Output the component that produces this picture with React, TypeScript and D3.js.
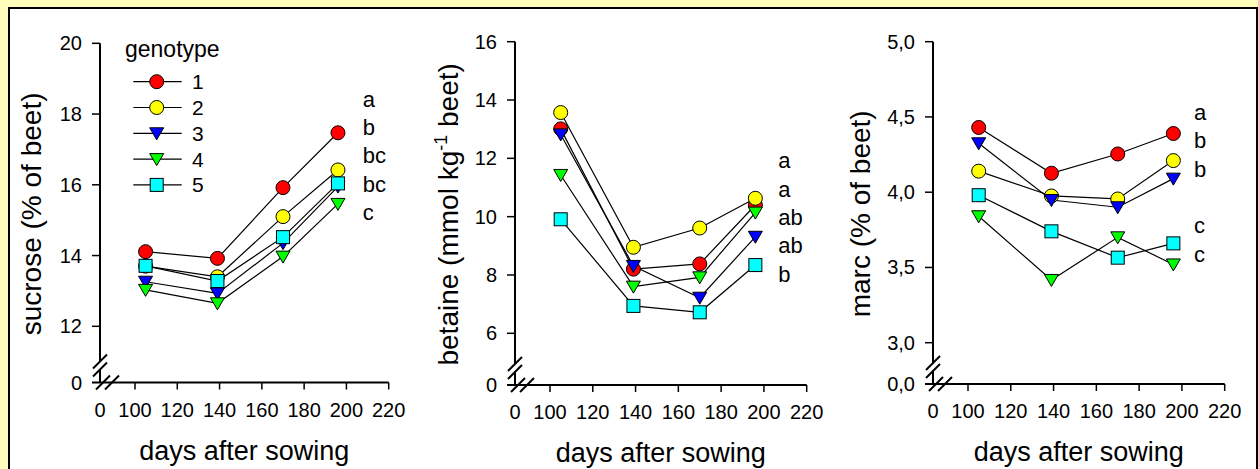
import React from 'react';
import * as d3 from 'd3';

// sampling days (x) and the five genotypes
const days = [105, 139, 170, 196];
const genotypes = ['1', '2', '3', '4', '5'];
const xTicks = [100, 120, 140, 160, 180, 200, 220];

// values per genotype, one row per genotype, one column per day
const sucrose = [
  [14.11, 13.92, 15.92, 17.47],
  [13.7, 13.4, 15.1, 16.42],
  [13.26, 12.93, 14.35, 15.95],
  [13.03, 12.65, 13.97, 15.46],
  [13.71, 13.28, 14.52, 16.04],
];
const betaine = [
  [13.01, 8.2, 8.38, 10.4],
  [13.57, 8.95, 9.61, 10.63],
  [12.82, 8.31, 7.22, 9.31],
  [11.43, 7.6, 7.92, 10.14],
  [9.91, 6.94, 6.72, 8.34],
];
const marc = [
  [4.43, 4.126, 4.254, 4.39],
  [4.14, 3.975, 3.955, 4.21],
  [4.325, 3.948, 3.9, 4.09],
  [3.84, 3.417, 3.7, 3.52],
  [3.98, 3.74, 3.565, 3.66],
];

const sucroseTicks = [12, 14, 16, 18, 20];
const betaineTicks = [6, 8, 10, 12, 14, 16];
const marcTicks = [3.0, 3.5, 4.0, 4.5, 5.0];

// significance letters (empty slot = skipped line)
const sucroseLetters = ['a', 'b', 'bc', 'bc', 'c'];
const betaineLetters = ['a', 'a', 'ab', 'ab', 'b'];
const marcLetters = ['a', 'b', 'b', '', 'c', 'c'];

const fills = ['#ff0000', '#ffff00', '#0000ff', '#00ff00', '#00ffff'];
const shapes = ['circle', 'circle', 'tri', 'tri', 'square'];

const FONT = 'Liberation Sans, Arial, sans-serif';

const commaFmt = (d: number) => d3.format('.1f')(d).replace('.', ',');

function Marker({ shape, x, y, fill }: { shape: string; x: number; y: number; fill: string }) {
  if (shape === 'circle') return <circle cx={x} cy={y} r={7} fill={fill} stroke="#000" strokeWidth={1} />;
  if (shape === 'square') return <rect x={x - 6.5} y={y - 6.5} width={13} height={13} fill={fill} stroke="#000" strokeWidth={1} />;
  const p = `M${x - 7},${y - 5.5}L${x + 7},${y - 5.5}L${x},${y + 6.5}Z`;
  return <path d={p} fill={fill} stroke="#000" strokeWidth={1} />;
}

type PanelProps = {
  values: number[][];
  ticks: number[];
  tickFmt: (d: number) => string;
  zeroLabel: string;
  letters: string[];
  title: React.ReactNode;
  x0: number; x100: number; x220: number;
  yBot: number; yTop: number; y0: number;
  titleX: number;
  letterX: number; letterY: number;
  legend?: boolean;
};

function Panel(p: PanelProps) {
  const x = d3.scaleLinear().domain([100, 220]).range([p.x100, p.x220]);
  const lo = p.ticks[0], hi = p.ticks[p.ticks.length - 1];
  const y = d3.scaleLinear().domain([lo, hi]).range([p.yBot, p.yTop]);
  const line = d3.line<number>().x((_, i) => x(days[i])).y(d => y(d));
  const b1 = p.y0 - 21, b2 = p.y0 - 13;
  const slash = (cx: number, cy: number, k: number) => (
    <line key={k} x1={cx - 7} y1={cy + 7} x2={cx + 7} y2={cy - 7} stroke="#000" strokeWidth={2} />
  );
  return (
    <g fontFamily={FONT} fill="#000">
      {/* axes */}
      <line x1={p.x0} x2={p.x0} y1={p.yTop} y2={b1} stroke="#000" strokeWidth={2} />
      <line x1={p.x0} x2={p.x0} y1={b2} y2={p.y0} stroke="#000" strokeWidth={2} />
      <line x1={p.x0 - 8} x2={p.x220} y1={p.y0} y2={p.y0} stroke="#000" strokeWidth={2} />
      {slash(p.x0, b1, 1)}
      {slash(p.x0, b2, 2)}
      {slash(p.x0 + 3, p.y0, 3)}
      {slash(p.x0 + 12, p.y0, 4)}
      {p.ticks.map(t => (
        <g key={t}>
          <line x1={p.x0 - 8} x2={p.x0} y1={y(t)} y2={y(t)} stroke="#000" strokeWidth={1.5} />
          <text x={p.x0 - 18} y={y(t) + 7} fontSize={20} textAnchor="end">{p.tickFmt(t)}</text>
        </g>
      ))}
      <text x={p.x0 - 18} y={p.y0 + 7} fontSize={20} textAnchor="end">{p.zeroLabel}</text>
      {xTicks.map(t => (
        <g key={t}>
          <line x1={x(t)} x2={x(t)} y1={p.y0} y2={p.y0 + 7} stroke="#000" strokeWidth={1.5} />
          <text x={x(t)} y={p.y0 + 34} fontSize={20} textAnchor="middle">{t}</text>
        </g>
      ))}
      <text x={p.x0} y={p.y0 + 34} fontSize={20} textAnchor="middle">0</text>
      {/* titles */}
      <text x={(p.x0 + p.x220) / 2} y={p.y0 + 77} fontSize={27} textAnchor="middle">days after sowing</text>
      <text transform={`translate(${p.titleX},${(p.yTop + p.y0) / 2 + 1}) rotate(-90)`} fontSize={28} textAnchor="middle">{p.title}</text>
      {/* series */}
      {p.values.map((v, i) => (
        <path key={i} d={line(v) || ''} fill="none" stroke="#000" strokeWidth={1.2} />
      ))}
      {p.values.map((v, i) => (
        <g key={i}>
          {v.map((d, j) => <Marker key={j} shape={shapes[i]} x={x(days[j])} y={y(d)} fill={fills[i]} />)}
        </g>
      ))}
      {p.letters.map((l, i) => (
        <text key={i} x={p.letterX} y={p.letterY + i * 28.3} fontSize={22}>{l}</text>
      ))}
      {p.legend && (
        <g>
          <text x={125} y={56.5} fontSize={23}>genotype</text>
          {genotypes.map((g, i) => {
            const ly = 81.7 + i * 25.8;
            return (
              <g key={g}>
                <line x1={133.3} x2={181.7} y1={ly} y2={ly} stroke="#000" strokeWidth={1.2} />
                <Marker shape={shapes[i]} x={156.7} y={ly} fill={fills[i]} />
                <text x={192} y={ly + 7.5} fontSize={21}>{g}</text>
              </g>
            );
          })}
        </g>
      )}
    </g>
  );
}

export default function App() {
  return (
    <svg width={1258} height={469} style={{ position: 'absolute', left: 0, top: 0, display: 'block' }}>
      <rect x={0} y={0} width={1258} height={469} fill="#ffffbb" />
      <rect x={9} y={8} width={1248} height={470} fill="#fff" stroke="#000" strokeWidth={2} />
      <Panel
        values={sucrose} ticks={sucroseTicks} tickFmt={d => String(d)} zeroLabel="0"
        letters={sucroseLetters} title="sucrose (% of beet)"
        x0={100} x100={135} x220={388.7} yBot={326.3} yTop={43.3} y0={382.5}
        titleX={40.5} letterX={362.7} letterY={106.7} legend
      />
      <Panel
        values={betaine} ticks={betaineTicks} tickFmt={d => String(d)} zeroLabel="0"
        letters={betaineLetters}
        title={<>betaine (mmol kg<tspan dy={-11} fontSize={18}>-1</tspan><tspan dy={11}> beet)</tspan></>}
        x0={515} x100={550} x220={806.7} yBot={333.3} yTop={41.7} y0={385}
        titleX={457.5} letterX={778.3} letterY={168.3}
      />
      <Panel
        values={marc} ticks={marcTicks} tickFmt={commaFmt} zeroLabel="0,0"
        letters={marcLetters} title="marc (% of beet)"
        x0={933} x100={968} x220={1224.7} yBot={342.7} yTop={41.7} y0={384}
        titleX={869.5} letterX={1194} letterY={120}
      />
    </svg>
  );
}
